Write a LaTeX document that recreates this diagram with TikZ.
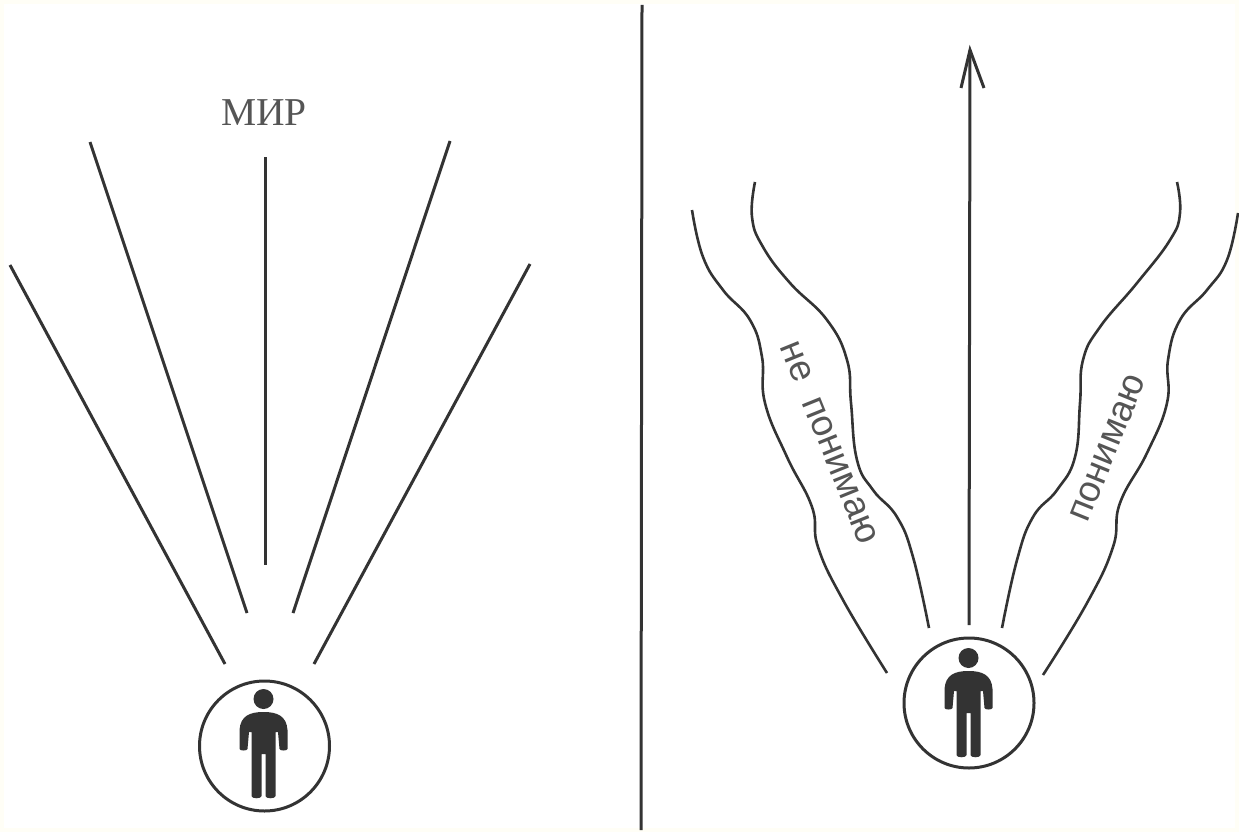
\documentclass[tikz,border=0pt]{standalone}
\usepackage{fontspec}
\setmainfont{Liberation Sans}
\newfontfamily\mirfont{Liberation Serif}
\definecolor{ink}{HTML}{333333}
\definecolor{soft}{HTML}{555555}
\definecolor{cream}{HTML}{FFFEF6}
\tikzset{
  rayline/.style={draw=ink,line width=3pt,line cap=butt},
  wavy/.style={draw=ink,line width=2.6pt,line cap=butt},
  selfring/.style={circle,draw=ink,line width=3pt,minimum size=130pt,inner sep=0pt,fill=none},
  bandtext/.style={text=soft,inner sep=0pt,font=\fontsize{37}{40}\selectfont},
  person/.pic={
    \fill[ink] (0,-47) circle[radius=10];
    \fill[ink]
      (0,-34) .. controls (14,-34) and (23,-30) .. (24,-16)
      -- (24,3) .. controls (24,5) and (16,5) .. (16,3)
      -- (14.5,-14) -- (12,-14)
      -- (12,50) .. controls (12,53) and (2,53) .. (2,50) -- (2,8) -- (-2,8) -- (-2,50)
      .. controls (-2,53) and (-12,53) .. (-12,50)
      -- (-12,-14) -- (-14.5,-14) -- (-16,3) .. controls (-16,5) and (-24,5) .. (-24,3) -- (-24,-16)
      .. controls (-23,-30) and (-14,-34) .. (0,-34) -- cycle;
  }
}
\begin{document}
\begin{tikzpicture}[x=1pt,y=-1pt]
\useasboundingbox (0,0) rectangle (1239,832);
\fill[cream] (0,0) rectangle (1239,832);
\fill[white] (4,4) rectangle (1235,828);

% left panel
\node[selfring] (selfL) at (264.5,746) {};
\pic at (263.5,746) {person};
\node[text=soft,inner sep=0pt,font=\mirfont\fontsize{39.5}{42}\selectfont] (mir) at (264,113) {МИР};
\foreach \n/\ax/\ay/\bx/\by in {a/10/265/225/664,b/90/142/247/613,c/265.5/157/265.5/565,d/450/141/293/613,e/530/264/314/664}{
  \coordinate (ray\n o) at (\ax,\ay);
  \coordinate (ray\n i) at (\bx,\by);
  \draw[rayline] (ray\n o) -- (ray\n i);
}

% divider
\coordinate (divT) at (642,5);
\coordinate (divB) at (641,830);
\draw[draw=ink,line width=3pt] (divT) -- (divB);

% right panel
\node[selfring] (selfR) at (969,703) {};
\pic at (968.5,705) {person};
\coordinate (arrS) at (969,625);
\coordinate (arrT) at (970,50);
\coordinate (arrL) at (961,88);
\coordinate (arrR) at (984,88);
\draw[rayline] (arrS) -- (arrT);
\draw[rayline,line join=miter] (arrL) -- (arrT) -- (arrR);

\draw[wavy] plot[smooth,tension=0.75] coordinates {(692,210) (703,257) (723,290) (750,320) (762,357) (765,403) (787,457) (812,507) (818,547) (843,600) (887,673)};
\draw[wavy] plot[smooth,tension=0.75] coordinates {(755,182) (752,217) (763,247) (790,283) (827,320) (847,360) (851,403) (857,460) (873,490) (897,517) (913,557) (929,628)};
\draw[wavy] plot[smooth,tension=0.75] coordinates {(1177,182) (1180,213) (1170,240) (1137,283) (1100,327) (1083,360) (1080,403) (1075,457) (1057,490) (1033,517) (1017,560) (1002,628)};
\draw[wavy] plot[smooth,tension=0.75] coordinates {(1238,213) (1227,260) (1207,290) (1180,320) (1168,360) (1167,403) (1147,453) (1120,503) (1113,547) (1087,603) (1043,675)};

\node[bandtext,rotate=-68] (neg) at (829,443) {не\hspace{0.5em}понимаю};
\node[bandtext,rotate=68] (pos) at (1108,448) {понимаю};
\end{tikzpicture}
\end{document}
